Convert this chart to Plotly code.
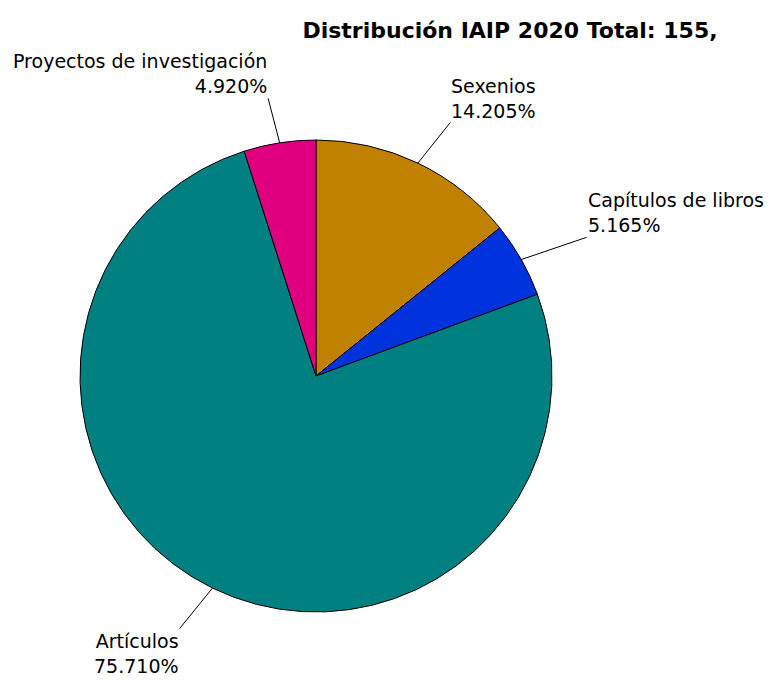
import math
import plotly.graph_objects as go

labels = ["Sexenios", "Capítulos de libros", "Artículos", "Proyectos de investigación"]
values = [14.205, 5.165, 75.710, 4.920]
colors = ["#C08000", "#0033DD", "#008080", "#E0007F"]
title_text = "Distribución IAIP 2020 Total: 155,"

W, H = 779, 680
cx, cy, r = 308, 368, 236   # pie centre / radius in figure pixels
LX, LY = 75, 45             # leader line extent (px)
FONT = "DejaVu Sans"

fig = go.Figure(go.Pie(
    labels=labels,
    values=values,
    sort=False,
    direction="clockwise",
    rotation=0,
    marker=dict(colors=colors, line=dict(color="black", width=1)),
    textinfo="none",
    showlegend=False,
    hoverinfo="label+percent",
    domain=dict(x=[(cx - r) / W, (cx + r) / W], y=[(H - cy - r) / H, (H - cy + r) / H]),
))

# Outside labels with leader lines, placed at each slice's mid angle
total = sum(values)
cum = 0.0
for lab, v in zip(labels, values):
    mid = (cum + v / 2) / total * 2 * math.pi
    cum += v
    s, c = math.sin(mid), math.cos(mid)
    px, py = cx + r * s, cy - r * c
    right = s >= 0
    up = c >= 0
    fig.add_annotation(
        x=px / W, y=1 - py / H, xref="paper", yref="paper",
        text=f"{lab}<br>{v / total * 100:.3f}%",
        showarrow=True, arrowhead=0, arrowwidth=1, arrowcolor="black",
        ax=LX * s, ay=-LY * c, standoff=0,
        xanchor="left" if right else "right",
        yanchor="bottom" if up else "top",
        align="left" if right else "right",
        borderpad=0,
        font=dict(family=FONT, size=19, color="black"),
    )

fig.update_layout(
    width=W, height=H,
    margin=dict(l=0, r=0, t=0, b=0),
    paper_bgcolor="white",
    plot_bgcolor="white",
    title=dict(text="<b>" + title_text + "</b>", x=502 / W, xanchor="center",
               y=1 - 22 / H, yanchor="middle",
               font=dict(family=FONT, size=22, color="black")),
)

fig.write_html("out.html")
